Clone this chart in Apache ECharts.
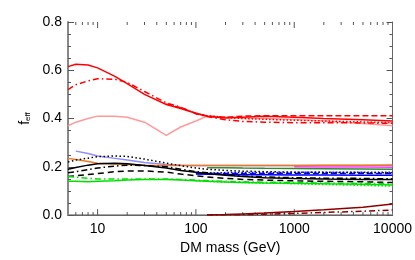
<!DOCTYPE html>
<html>
<head>
<meta charset="utf-8">
<script src="https://cdn.jsdelivr.net/npm/echarts@6/dist/echarts.min.js"></script>
<style>
  html, body { margin: 0; padding: 0; background: #fff; }
  #chart { width: 415px; height: 260px; }
</style>
</head>
<body>
<div id="chart"></div>
<script>
// DM mass grid (GeV), shared by all curves
var mass = [5, 6, 8, 10, 15, 20, 30, 50, 70, 100, 130, 200, 300, 500, 1000, 2000, 5000, 10000]

// f_eff curves (null = curve not drawn there)
var redSolid   = [0.615, 0.625, 0.622, 0.61, 0.575, 0.545, 0.5, 0.458, 0.442, 0.422, 0.41, 0.402, 0.405, 0.41, 0.405, 0.4, 0.395, 0.39]
var redDashDot = [0.52, 0.54, 0.556, 0.565, 0.563, 0.55, 0.512, 0.465, 0.447, 0.42, 0.408, 0.395, 0.388, 0.385, 0.383, 0.383, 0.382, 0.38]
var redDashed  = [null, null, null, null, null, null, null, 0.46, 0.445, 0.422, 0.41, 0.405, 0.41, 0.412, 0.412, 0.412, 0.412, 0.412]
var redDotted  = [null, null, null, null, null, null, null, null, null, 0.42, 0.412, 0.405, 0.4, 0.397, 0.393, 0.39, 0.386, 0.383]
var pinkSolid  = [0.37, 0.385, 0.4, 0.41, 0.41, 0.405, 0.385, 0.33, 0.365, 0.39, 0.41, 0.405, 0.402, 0.4, 0.396, 0.39, 0.38, 0.37]
var lightBlue  = [null, 0.265, 0.255, 0.245, 0.235, 0.228, 0.218, 0.21, 0.207, 0.206, 0.205, 0.205, 0.205, 0.205, 0.205, 0.205, 0.205, 0.205]
var orange     = [0.235, 0.23, 0.222, 0.215, 0.212, 0.21, 0.207, 0.205, 0.205, 0.205, 0.205, 0.205, 0.205, 0.206, 0.206, 0.207, 0.207, 0.208]
var blackDot   = [0.22, 0.228, 0.236, 0.242, 0.245, 0.243, 0.232, 0.215, 0.205, 0.195, 0.19, 0.185, 0.182, 0.18, 0.178, 0.177, 0.176, 0.175]
var blackSolid = [0.19, 0.197, 0.207, 0.213, 0.215, 0.213, 0.205, 0.195, 0.185, 0.178, 0.172, 0.165, 0.16, 0.155, 0.152, 0.15, 0.148, 0.147]
var blackDDot  = [0.175, 0.18, 0.188, 0.195, 0.203, 0.207, 0.205, 0.2, 0.19, 0.18, 0.175, 0.168, 0.162, 0.158, 0.155, 0.153, 0.152, 0.15]
var blackDash  = [0.16, 0.163, 0.168, 0.172, 0.18, 0.183, 0.183, 0.178, 0.17, 0.163, 0.158, 0.152, 0.148, 0.145, 0.142, 0.14, 0.138, 0.135]
var greenSolid = [0.14, 0.14, 0.138, 0.14, 0.142, 0.145, 0.147, 0.147, 0.145, 0.142, 0.14, 0.137, 0.135, 0.133, 0.132, 0.13, 0.128, 0.125]
var greenDDot  = [0.16, 0.157, 0.152, 0.15, 0.15, 0.15, 0.15, 0.15, 0.148, 0.145, 0.143, 0.14, 0.138, 0.136, 0.135, 0.133, 0.131, 0.13]
var greenDot   = [null, null, null, null, null, null, null, null, null, 0.142, 0.14, 0.137, 0.135, 0.133, 0.13, 0.127, 0.123, 0.12]
var darkGreen  = [null, null, null, null, null, null, null, null, null, null, 0.196, 0.196, 0.195, 0.194, 0.193, 0.192, 0.191, 0.19]
var magenta    = [null, null, null, null, null, null, null, null, null, null, null, null, null, null, 0.2, 0.199, 0.199, 0.198]
var blueSolid  = [null, null, null, null, null, null, null, null, null, 0.17, 0.169, 0.168, 0.167, 0.167, 0.166, 0.166, 0.165, 0.165]
var blueDot    = [null, null, null, null, null, null, null, null, null, 0.175, 0.175, 0.176, 0.176, 0.177, 0.177, 0.178, 0.178, 0.178]
var blueDash   = [null, null, null, null, null, null, null, null, null, 0.172, 0.172, 0.172, 0.172, 0.172, 0.172, 0.172, 0.172, 0.172]
var maroonSolid = [null, null, null, null, null, null, null, null, null, null, 0.0, 0.002, 0.005, 0.009, 0.015, 0.022, 0.033, 0.046]
var maroonDDot  = [null, null, null, null, null, null, null, null, null, null, 0.0, 0.001, 0.002, 0.004, 0.007, 0.011, 0.016, 0.021]

// tick values for the log x axis
var xMajor = [10, 100, 1000]
var xMinor = [6, 7, 8, 9, 20, 30, 40, 50, 60, 70, 80, 90, 200, 300, 400, 500, 600, 700, 800, 900,
  2000, 3000, 4000, 5000, 6000, 7000, 8000, 9000]

var dashDot = [6, 3, 1.5, 3]

function line(name, vals, color, type) {
  return {
    name: name,
    type: 'line',
    data: mass.map(function (m, i) { return [m, vals[i]] }),
    showSymbol: false,
    symbol: 'none',
    lineStyle: { color: color, width: 1.5, type: type || 'solid' },
    silent: true
  }
}

var ticks = xMajor.map(function (v) { return [v, 1] }).concat(xMinor.map(function (v) { return [v, 0] }))

var myChart = echarts.init(document.getElementById('chart'))
var option = {
  animation: false,
  backgroundColor: '#fff',
  grid: { left: 68, right: 20, top: 22, bottom: 44 },
  xAxis: [
    {
      type: 'log',
      logBase: 10,
      min: 5,
      max: 10000,
      name: 'DM mass (GeV)',
      nameLocation: 'middle',
      nameGap: 22,
      nameTextStyle: { fontSize: 14, color: '#000', fontFamily: 'Liberation Sans' },
      axisLine: { lineStyle: { color: '#888', width: 1.5 } },
      axisTick: { show: false },
      splitLine: { show: false },
      axisLabel: {
        fontSize: 14,
        color: '#000',
        fontFamily: 'Liberation Sans',
        margin: 7,
        showMinLabel: false,
        formatter: function (v) {
          var l = Math.log10(v)
          return Math.abs(l - Math.round(l)) < 1e-6 ? String(Math.round(v)) : ''
        }
      }
    },
    {
      type: 'log',
      logBase: 10,
      min: 5,
      max: 10000,
      position: 'top',
      axisLine: { lineStyle: { color: '#666', width: 1 } },
      axisTick: { show: false },
      axisLabel: { show: false },
      splitLine: { show: false }
    }
  ],
  yAxis: [
    {
      type: 'value',
      min: 0,
      max: 0.8,
      interval: 0.2,
      name: '{b|f}{s|eff}',
      nameLocation: 'middle',
      nameGap: 36,
      nameMoveOverlap: false,
      nameRotate: 90,
      nameTextStyle: {
        color: '#000',
        fontFamily: 'Liberation Sans',
        rich: {
          b: { fontSize: 14, lineHeight: 16, fontFamily: 'Liberation Sans', color: '#000', verticalAlign: 'bottom' },
          s: { fontSize: 8, lineHeight: 12, fontFamily: 'Liberation Sans', color: '#000', verticalAlign: 'bottom' }
        }
      },
      axisLine: { show: true, lineStyle: { color: '#888', width: 2 } },
      axisTick: { show: true, inside: true, length: 6, lineStyle: { color: '#555' } },
      minorTick: { show: true, splitNumber: 4, length: 3, lineStyle: { color: '#555' } },
      splitLine: { show: false },
      axisLabel: {
        fontSize: 14,
        color: '#000',
        fontFamily: 'Liberation Sans',
        margin: 6,
        formatter: function (v) { return v.toFixed(1) }
      }
    },
    {
      type: 'value',
      min: 0,
      max: 0.8,
      interval: 0.2,
      position: 'right',
      axisLine: { show: true, lineStyle: { color: '#666', width: 1 } },
      axisTick: { show: true, inside: true, length: 6, lineStyle: { color: '#555' } },
      minorTick: { show: true, splitNumber: 4, length: 3, lineStyle: { color: '#555' } },
      splitLine: { show: false },
      axisLabel: { show: false }
    }
  ],
  series: [
    // inward tick marks on the bottom and top x axes
    {
      type: 'custom',
      silent: true,
      clip: false,
      data: ticks,
      renderItem: function (params, api) {
        var v = api.value(0)
        var len = api.value(1) ? 6 : 3
        var b = api.coord([v, 0])
        var t = api.coord([v, 0.8])
        var st = { stroke: '#555', lineWidth: 1 }
        return {
          type: 'group',
          children: [
            { type: 'line', shape: { x1: b[0], y1: b[1], x2: b[0], y2: b[1] - len }, style: st },
            { type: 'line', shape: { x1: t[0], y1: t[1], x2: t[0], y2: t[1] + len }, style: st }
          ]
        }
      }
    },
    line('pink', pinkSolid, '#ff9a9a'),
    line('red dotted', redDotted, '#ff0000', [1.5, 2]),
    line('red dashed', redDashed, '#ff0000', [6, 3]),
    line('red dash-dot', redDashDot, '#ff0000', dashDot),
    line('red', redSolid, '#ff0000'),
    line('light blue', lightBlue, '#8c8cff'),
    line('magenta', magenta, '#ff40ff'),
    line('orange', orange, '#f07820'),
    line('dark green', darkGreen, '#2e8b2e'),
    line('blue dotted', blueDot, '#0000ff', [1.5, 2]),
    line('blue dashed', blueDash, '#0000ff', [6, 3]),
    line('blue', blueSolid, '#0000ff'),
    line('black dotted', blackDot, '#000', [1.5, 2.5]),
    line('black', blackSolid, '#000'),
    line('black dash-dot', blackDDot, '#000', dashDot),
    line('black dashed', blackDash, '#000', [6, 4]),
    line('green dotted', greenDot, '#00e000', [1.5, 2]),
    line('green dash-dot', greenDDot, '#00e000', dashDot),
    line('green', greenSolid, '#00e000'),
    line('maroon dash-dot', maroonDDot, '#8b0000', dashDot),
    line('maroon', maroonSolid, '#8b0000')
  ]
}
myChart.setOption(option)
window.addEventListener('resize', function () { myChart.resize() })
</script>
</body>
</html>
